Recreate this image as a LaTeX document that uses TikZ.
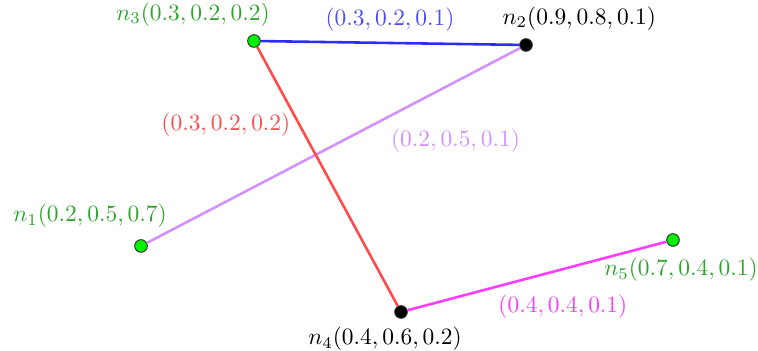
\documentclass[tikz,border=0pt]{standalone}
\usepackage{amsmath}
\usepackage{tikz}
\usepackage{xcolor}
\definecolor{lblgreen}{RGB}{45,165,45}
\definecolor{ptgreen}{RGB}{0,240,0}
\definecolor{edgeblue}{RGB}{45,45,245}
\definecolor{edgered}{RGB}{255,75,75}
\definecolor{edgelilac}{RGB}{210,145,255}
\definecolor{edgemagenta}{RGB}{255,60,255}

\begin{document}
\begin{tikzpicture}[>=stealth, every node/.style={align=center},
    pt/.style={circle, draw=black!80, thin, inner sep=0pt, minimum size=0.19cm},
    green pt/.style={pt, fill=ptgreen},
    black pt/.style={pt, fill=black},
    edge/.style={line width=1.1pt}]
  \useasboundingbox (0,0) rectangle (11.37,5.265);
  \node[green pt, label={[text=lblgreen, xshift=-0.915cm]above:\(n_3(0.3,0.2,0.2)\)}] (n3) at (3.81,4.65) {};
  \node[black pt, label={[xshift=0.8cm]above:\(n_2(0.9,0.8,0.1)\)}] (n2) at (7.89,4.59) {};
  \node[green pt, label={[text=lblgreen, xshift=-0.765cm, yshift=0.05cm]above:\(n_1(0.2,0.5,0.7)\)}] (n1) at (2.115,1.575) {};
  \node[black pt, label={[xshift=-0.24cm]below:\(n_4(0.4,0.6,0.2)\)}] (n4) at (6.015,0.585) {};
  \node[green pt, label={[text=lblgreen, xshift=0.12cm, yshift=-0.05cm]below:\(n_5(0.7,0.4,0.1)\)}] (n5) at (10.095,1.665) {};
  \draw[edge, edgeblue] (n3) -- node[above, yshift=1pt, text=edgeblue!85] {\((0.3,0.2,0.1)\)} (n2);
  \draw[edge, edgelilac] (n1) -- node[pos=0.63, below right] {\((0.2,0.5,0.1)\)} (n2);
  \draw[edge, edgered] (n3) -- node[pos=0.3, left] {\((0.3,0.2,0.2)\)} (n4);
  \draw[edge, edgemagenta] (n4) -- node[pos=0.6, below=7pt] {\((0.4,0.4,0.1)\)} (n5);
\end{tikzpicture}
\end{document}
